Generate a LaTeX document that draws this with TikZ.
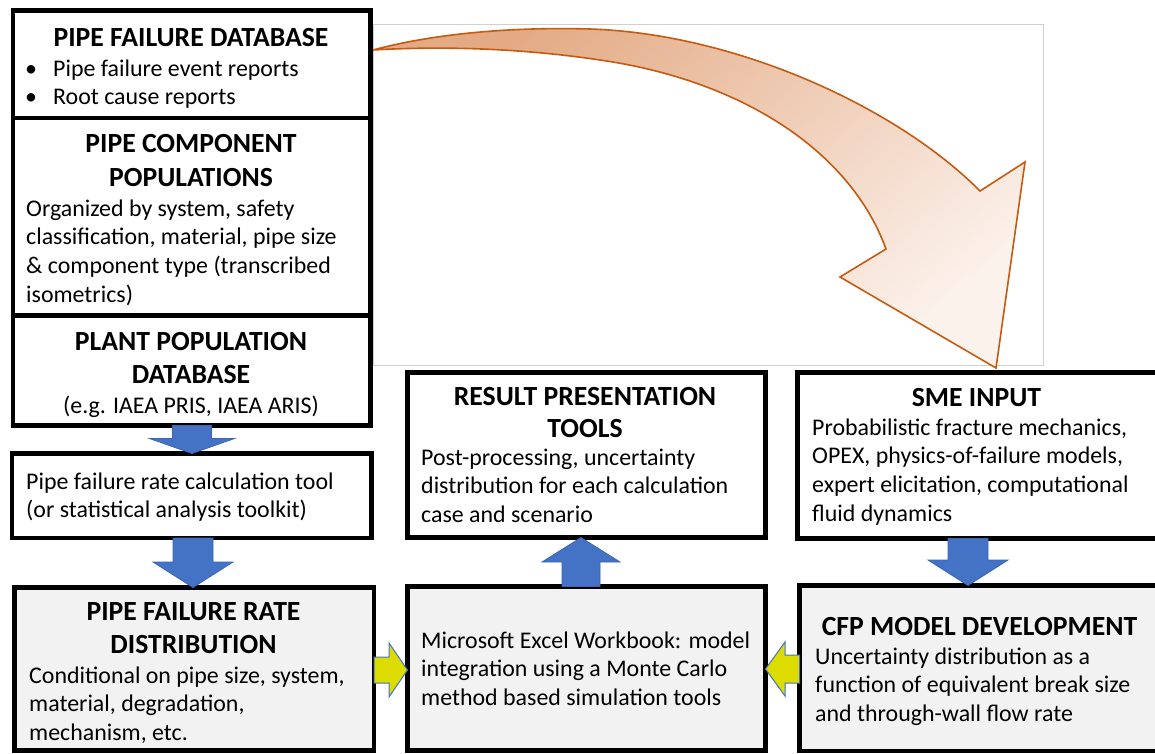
\documentclass[tikz,border=0pt]{standalone}
\usepackage{fontspec}
\setmainfont{Carlito}
\usetikzlibrary{calc}

\definecolor{panelgray}{HTML}{F2F2F2}
\definecolor{flowblue}{HTML}{4472C4}
\definecolor{flowblueedge}{HTML}{3B66B5}
\definecolor{feedyellow}{HTML}{DCDC00}
\definecolor{curveedge}{HTML}{C55A11}
\definecolor{curvedark}{HTML}{E3AA84}
\definecolor{curvelight}{HTML}{FCF2EC}
\definecolor{framegray}{HTML}{D0D0D0}

\tikzset{
  panel/.style={draw=black, line width=4.5pt, fill=white, anchor=north west,
                inner sep=0pt, outer sep=0pt},
  graypanel/.style={panel, fill=panelgray},
  heading/.style={font=\fontsize{27.7}{33}\selectfont\bfseries, anchor=base, inner sep=0pt},
  bodytext/.style={font=\fontsize{23.9}{29}\selectfont, anchor=base west, inner sep=0pt},
  centertext/.style={font=\fontsize{23.9}{29}\selectfont, anchor=base, inner sep=0pt},
  bluearrow/.style={fill=flowblue, draw=flowblueedge, line width=0.8pt},
  yellowarrow/.style={fill=feedyellow, draw=flowblue, line width=1pt},
}

% box from its top-left corner (#3,#4) to its bottom-right corner (#5,#6)
\newcommand\panelbox[6]{%
  \node[#2, minimum width={#5pt-#3pt}, minimum height={#6pt-#4pt}] (#1) at (#3,#4) {};}

% left-aligned text lines, 28.7 units apart
\newcommand\textlines[4]{%
  \foreach \ln [count=\k from 0] in {#4} {\node[bodytext] (#1-\k) at (#2,{#3+28.7*\k}) {\ln};}}

% vertical block arrow: style, tail anchor, tip anchor, x coordinate,
% shaft half width, head half width, head length (negative for upward arrows)
\newcommand\vblock[7]{%
  \path[#1] ($(#2 -| #4)+(-#5,0)$) -- ($(#2 -| #4)+(#5,0)$)
    -- ($(#3 -| #4)+(#5,{-(#7)})$) -- ($(#3 -| #4)+(#6,{-(#7)})$)
    -- (#3 -| #4)
    -- ($(#3 -| #4)+(-#6,{-(#7)})$) -- ($(#3 -| #4)+(-#5,{-(#7)})$) -- cycle;}

% horizontal block arrow: style, tail anchor, tip anchor, y coordinate,
% shaft half height, head half height, head length (negative for leftward arrows)
\newcommand\hblock[7]{%
  \path[#1] ($(#2 |- #4)+(0,-#5)$) -- ($(#2 |- #4)+(0,#5)$)
    -- ($(#3 |- #4)+({-(#7)},#5)$) -- ($(#3 |- #4)+({-(#7)},#6)$)
    -- (#3 |- #4)
    -- ($(#3 |- #4)+({-(#7)},-#6)$) -- ($(#3 |- #4)+({-(#7)},-#5)$) -- cycle;}

\begin{document}
\begin{tikzpicture}[x=1pt, y=-1pt]
  \clip (0,0) rectangle (1155,753);
  \fill[white] (0,0) rectangle (1155,753);

  % frame of the inset picture holding the curved arrow
  \draw[framegray, line width=1pt] (373,24) rectangle (1043,365);

  % curved arrow from the database towards the expert input
  \path[draw=curveedge, line width=1.6pt, line join=miter,
        top color=curvedark, bottom color=curvelight, shading angle=40]
    (373,50) .. controls (440,32) and (520,27) .. (590,29)
    .. controls (740,34) and (900,110) .. (980,191)
    -- (1025,162) -- (996,368) -- (840,277) -- (886,249)
    .. controls (850,150) and (740,80) .. (600,60)
    .. controls (520,48) and (440,46) .. (373,50) -- cycle;

  % lines along which the block arrows run
  \coordinate (xa) at (192,0);
  \coordinate (xb) at (193,0);
  \coordinate (xc) at (581,0);
  \coordinate (xd) at (968,0);
  \coordinate (ya) at (0,670);
  \coordinate (yb) at (0,669);

  % boxes
  \panelbox{pfdb}{panel}{13}{10.5}{370.5}{118}
  \panelbox{pcp}{panel}{13}{118}{370.5}{315.5}
  \panelbox{ppd}{panel}{13}{315.5}{370.5}{425.5}
  \panelbox{calc}{panel}{12}{453.5}{371.5}{538}
  \panelbox{pfrd}{graypanel}{14.5}{587.5}{374}{750.5}
  \panelbox{rpt}{panel}{407.5}{372.5}{765.5}{537.5}
  \panelbox{excel}{graypanel}{407.5}{586.5}{765.5}{750.5}
  \panelbox{sme}{panel}{797.5}{372.5}{1175}{538.5}
  \panelbox{cfp}{graypanel}{799.5}{585.5}{1175}{751}

  % block arrows
  \vblock{bluearrow}{ppd.south}{calc.north}{xa}{19.5}{42.5}{15}
  \vblock{bluearrow}{calc.south}{pfrd.north}{xb}{20}{40}{25.5}
  \vblock{bluearrow}{excel.north}{rpt.south}{xc}{19}{39}{-24.5}
  \vblock{bluearrow}{sme.south}{cfp.north}{xd}{20}{40}{25.5}
  \hblock{yellowarrow}{pfrd.east}{excel.west}{ya}{13}{27}{18.5}
  \hblock{yellowarrow}{cfp.west}{excel.east}{yb}{14}{27}{-19.5}

  % texts
  \node[heading] (pfdb-h) at (191,46) {PIPE FAILURE DATABASE};
  \node[bodytext] (pfdb-b0) at (25,76) {•};
  \node[bodytext] (pfdb-b1) at (25,104) {•};
  \textlines{pfdb-t}{53}{76}{{Pipe failure event reports},{Root cause reports}}

  \node[heading] (pcp-h0) at (191,152) {PIPE COMPONENT};
  \node[heading] (pcp-h1) at (191,186) {POPULATIONS};
  \textlines{pcp-t}{26}{216}{{Organized by system, safety},{classification, material, pipe size},{\& component type (transcribed},{isometrics)}}

  \node[heading] (ppd-h0) at (191,350) {PLANT POPULATION};
  \node[heading] (ppd-h1) at (191,383) {DATABASE};
  \node[centertext] (ppd-t) at (191,413) {(e.g. IAEA PRIS, IAEA ARIS)};

  \textlines{calc-t}{26}{489}{{Pipe failure rate calculation tool},{(or statistical analysis toolkit)}}

  \node[heading] (pfrd-h0) at (193.5,620) {PIPE FAILURE RATE};
  \node[heading] (pfrd-h1) at (193.5,653) {DISTRIBUTION};
  \textlines{pfrd-t}{29}{683}{{Conditional on pipe size, system,},{material, degradation,},{mechanism, etc.}}

  \node[heading] (rpt-h0) at (585,405) {RESULT PRESENTATION};
  \node[heading] (rpt-h1) at (585,437) {TOOLS};
  \textlines{rpt-t}{421}{465}{{Post-processing, uncertainty},{distribution for each calculation},{case and scenario}}

  \textlines{excel-t}{421}{648}{{Microsoft Excel Workbook: model},{integration using a Monte Carlo},{method based simulation tools}}

  \node[heading] (sme-h) at (976.5,406) {SME INPUT};
  \textlines{sme-t}{812}{435}{{Probabilistic fracture mechanics,},{OPEX, physics-of-failure models,},{expert elicitation, computational},{fluid dynamics}}

  \node[heading] (cfp-h) at (979.5,635) {CFP MODEL DEVELOPMENT};
  \textlines{cfp-t}{815}{664}{{Uncertainty distribution as a},{function of equivalent break size},{and through-wall flow rate}}
\end{tikzpicture}
\end{document}
